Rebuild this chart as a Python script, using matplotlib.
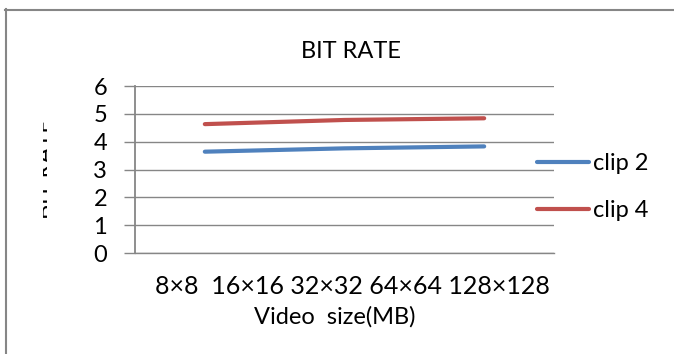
import matplotlib
matplotlib.use("Agg")
import matplotlib.pyplot as plt
from matplotlib.lines import Line2D
from matplotlib.patches import Rectangle

# category labels and series values
sizes = ["8×8", "16×16", "32×32", "64×64", "128×128"]
points = [0, 1, 2]
clip2 = [3.64, 3.76, 3.83]
clip4 = [4.63, 4.78, 4.84]
series_names = ["clip 2", "clip 4"]

plt.rcParams['font.family'] = ['Lato', 'DejaVu Sans']
FS = 17

W, H = 674, 354
fig = plt.figure(figsize=(W / 100, H / 100), dpi=100)
ax = fig.add_axes([135 / W, 1 - 253 / H, (554 - 135) / W, (253 - 86) / H])

blue = '#4F81BD'
red = '#C0504D'
grey = '#868686'

l1, = ax.plot(points, clip2, color=blue, lw=3, solid_capstyle='round')
l2, = ax.plot(points, clip4, color=red, lw=3, solid_capstyle='round')

ax.set_xlim(-0.5, 2.5)
ax.set_ylim(0, 6)
ax.set_yticks(range(0, 7))
ax.grid(axis='y', color=grey, lw=1)
ax.set_axisbelow(True)
for s in ['top', 'right']:
    ax.spines[s].set_visible(False)
ax.spines['left'].set_color(grey)
ax.spines['bottom'].set_color(grey)
ax.spines['left'].set_linewidth(1.3)
ax.spines['bottom'].set_linewidth(1)
ax.tick_params(axis='y', length=8, color=grey, width=1, labelsize=FS, pad=12)
ax.set_xticks([])

# category labels written as one row under the axis
fig.text(352 / W, 1 - 287 / H, "  ".join(sizes[:1]) + "  " + " ".join(sizes[1:]),
         ha='center', va='center', fontsize=18)
fig.text(335 / W, 1 - 317 / H, "Video  size(MB)", ha='center', va='center', fontsize=FS)
fig.text(351 / W, 1 - 52 / H, "BIT RATE", ha='center', va='center', fontsize=FS)

# y label only partly visible
yl = fig.text(45 / W, 1 - 169 / H, "BIT RATE", rotation=90, ha='center', va='center',
              fontsize=FS)
yl.set_clip_path(Rectangle((43, 100), 4, 150, transform=None))

leg = fig.legend([l1, l2], series_names, loc='upper left',
                 bbox_to_anchor=(516 / W, 1 - 132 / H), frameon=False, fontsize=FS,
                 handlelength=2.2, handletextpad=0.15, labelspacing=1.1)

# outer frame
fig.add_artist(Line2D([5 / W, 1], [1 - 9.5 / H] * 2, color=grey, lw=1.5))
fig.add_artist(Line2D([5.5 / W] * 2, [0, 1 - 9 / H], color=grey, lw=1.5))

fig.savefig('out.png', dpi=100)
